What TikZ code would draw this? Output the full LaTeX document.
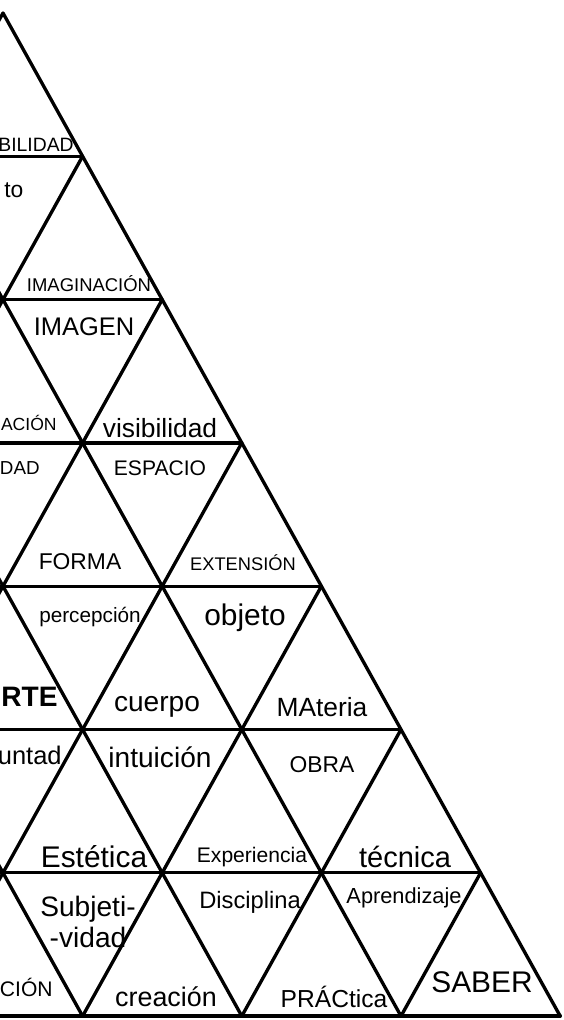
\documentclass[tikz,border=0pt]{standalone}
\usepackage{fontspec}
\setmainfont{Liberation Sans}
\usepackage{tikz}

\begin{document}
\begin{tikzpicture}[
  x=0.02cm, y=-0.02cm,
  seam/.style={line width=1.9pt, line cap=round, line join=round},
  word/.style={font=\fontsize{#1}{#1}\selectfont, inner sep=0pt, align=center},
  cut/.style={word=#1, anchor=east}
]
\useasboundingbox (0,0) rectangle (564,1020);
\def\w{79.6}
\def\h{143.3}

\begin{scope}
\clip (0,0) rectangle (564,1020);
\foreach \k in {1,...,7}
  \draw[seam] ({3-\w*\k},{13+\h*\k}) -- ({3+\w*\k},{13+\h*\k});
\foreach \k in {0,...,7}{
  \draw[seam] ({3-\w*\k},{13+\h*\k}) -- ({3+\w*(7-2*\k)},{13+7*\h});
  \draw[seam] ({3+\w*\k},{13+\h*\k}) -- ({3+\w*(2*\k-7)},{13+7*\h});
}
\end{scope}

% row 1 and 2
\node[cut=11] (sensibilidad) at (74,145) {BILIDAD};
\node[word=13, anchor=west] (concepto) at (4,190) {to};
\node[word=10.5] (imaginacion) at (89,284) {IMAGINACIÓN};

% row 3
\node[cut=10] (accion) at (57,423) {ACIÓN};
\node[word=14.5] (imagen) at (84,327) {IMAGEN};
\node[word=15] (visibilidad) at (160,428) {visibilidad};

% row 4
\node[cut=10.7] (dad) at (40,468) {DAD};
\node[word=13] (forma) at (80,562) {FORMA};
\node[word=12] (espacio) at (160,468) {ESPACIO};
\node[word=10.4] (extension) at (243,563) {EXTENSIÓN};

% row 5
\node[word=16, font=\fontsize{16}{16}\selectfont\bfseries, anchor=west] (arte) at (1,697) {RTE};
\node[word=11.8] (percepcion) at (90,617) {percepción};
\node[word=16] (cuerpo) at (157,707) {cuerpo};
\node[word=17] (objeto) at (245,618) {objeto};
\node[word=15] (materia) at (322,707) {MAteria};

% row 6
\node[cut=14.5] (voluntad) at (62,755) {untad};
\node[word=16] (intuicion) at (160,757) {intuición};
\node[word=13] (obra) at (322,765) {OBRA};
\node[word=17] (estetica) at (94,857) {Estética};
\node[word=12] (experiencia) at (252,857) {Experiencia};
\node[word=16.5] (tecnica) at (405,857) {técnica};

% row 7
\node[cut=12] (cion) at (53,987) {CIÓN};
\node[word=16, font=\fontsize{16}{18}\selectfont] (subjetividad) at (88,922) {Subjeti-\\-vidad};
\node[word=15.3] (creacion) at (166,997) {creación};
\node[word=13.5] (disciplina) at (250,902) {Disciplina};
\node[word=14] (practica) at (334,997) {PRÁCtica};
\node[word=12.4] (aprendizaje) at (404,898) {Aprendizaje};
\node[word=17] (saber) at (482,982) {SABER};
\end{tikzpicture}
\end{document}
